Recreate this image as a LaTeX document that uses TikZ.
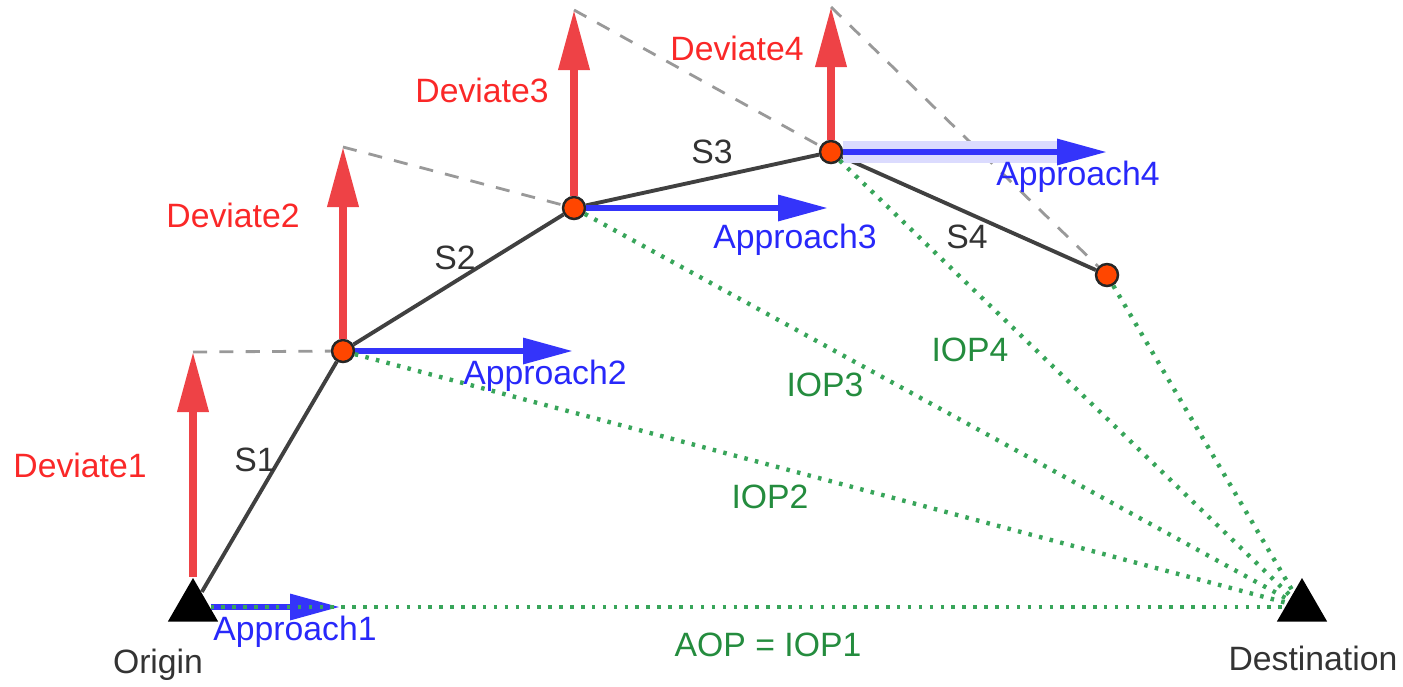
\documentclass[tikz,border=0pt]{standalone}
\usepackage{fontspec}
\setmainfont{Liberation Sans}
\usetikzlibrary{arrows.meta,shapes.geometric,positioning}

\definecolor{devred}{RGB}{238,66,70}
\definecolor{appblue}{RGB}{52,52,250}
\definecolor{lblred}{RGB}{250,40,40}
\definecolor{lblblue}{RGB}{40,40,250}
\definecolor{iopgreen}{RGB}{36,140,62}
\definecolor{dotgreen}{RGB}{56,165,90}
\definecolor{ptorange}{RGB}{255,70,0}

\begin{document}
\begin{tikzpicture}[scale=1.0,
  every node/.style={font=\fontsize{9.6}{11}\selectfont},
  endpt/.style={regular polygon,regular polygon sides=3,fill=black,minimum size=0.58cm,inner sep=0pt},
  waypt/.style={circle,draw=black!85,fill=ptorange,line width=0.7pt,minimum size=0.22cm,inner sep=0pt},
  seg/.style={line width=1.1pt,black!75},
  deviate/.style={line width=2pt,devred,-{Triangle[length=0.6cm,width=0.3cm]}},
  approach/.style={line width=1.8pt,appblue,-{Triangle[length=0.5cm,width=0.25cm]}},
  guide/.style={gray!80,line width=0.8pt,dash pattern=on 4pt off 3.5pt},
  iop/.style={dotgreen,line width=1.25pt,dash pattern=on 1pt off 2.1pt}]
\useasboundingbox (0,0) rectangle (14.03,6.86);

% route points
\node[endpt] (orig) at (1.93,0.79) {};
\node[endpt] (dest) at (13.02,0.79) {};
\node[waypt] (p1) at (3.43,3.35) {};
\node[waypt] (p2) at (5.74,4.78) {};
\node[waypt] (p3) at (8.31,5.34) {};
\node[waypt] (p4) at (11.07,4.11) {};

% arrow tips
\coordinate (d1) at (1.93,3.34);
\coordinate (d2) at (3.43,5.39);
\coordinate (d3) at (5.74,6.76);
\coordinate (d4) at (8.31,6.79);
\coordinate (a1) at (3.40,0.79);
\coordinate (a2) at (5.73,3.35);
\coordinate (a3) at (8.28,4.78);
\coordinate (a4) at (11.07,5.34);
\coordinate (glow) at (10.62,5.34);

% dashed helpers
\draw[guide] (d1) -- (p1);
\draw[guide] (d2) -- (p2);
\draw[guide] (d3) -- (p3);
\draw[guide] (d4) -- (p4);

% path segments
\draw[seg] (orig) -- (p1);
\draw[seg] (p1) -- (p2);
\draw[seg] (p2) -- (p3);
\draw[seg] (p3) -- (p4);

% deviate / approach vectors
\draw[deviate] (orig) -- (d1);
\draw[deviate] (p1) -- (d2);
\draw[deviate] (p2) -- (d3);
\draw[deviate] (p3) -- (d4);
\draw[line width=6pt,appblue!18] (p3) -- (glow);
\draw[approach] (orig) -- (a1);
\draw[approach] (p1) -- (a2);
\draw[approach] (p2) -- (a3);
\draw[approach] (p3) -- (a4);

% straight lines to the destination
\draw[iop] (orig) -- (dest);
\draw[iop] (p1) -- (dest);
\draw[iop] (p2) -- (dest);
\draw[iop] (p3) -- (dest);
\draw[iop] (p4) -- (dest);

% labels
\node[text=black!80] (s1) at (2.55,2.26) {S1};
\node[text=black!80] (s2) at (4.55,4.28) {S2};
\node[text=black!80] (s3) at (7.12,5.34) {S3};
\node[text=black!80] (s4) at (9.67,4.49) {S4};
\node[text=lblred] (dev1) at (0.80,2.21) {Deviate1};
\node[text=lblred] (dev2) at (2.33,4.71) {Deviate2};
\node[text=lblred] (dev3) at (4.82,5.96) {Deviate3};
\node[text=lblred] (dev4) at (7.37,6.38) {Deviate4};
\node[text=lblblue] (app1) at (2.95,0.54) {Approach1};
\node[text=lblblue] (app2) at (5.45,3.10) {Approach2};
\node[text=lblblue] (app3) at (7.95,4.46) {Approach3};
\node[text=lblblue] (app4) at (10.78,5.09) {Approach4};
\node[text=iopgreen] (iop4) at (9.70,3.36) {IOP4};
\node[text=iopgreen] (iop3) at (8.25,3.01) {IOP3};
\node[text=iopgreen] (iop2) at (7.70,1.89) {IOP2};
\node[text=iopgreen] (aop) at (7.68,0.41) {AOP = IOP1};
\node[text=black!80] (lorig) at (1.58,0.21) {Origin};
\node[text=black!80] (ldest) at (13.13,0.28) {Destination};
\end{tikzpicture}
\end{document}
